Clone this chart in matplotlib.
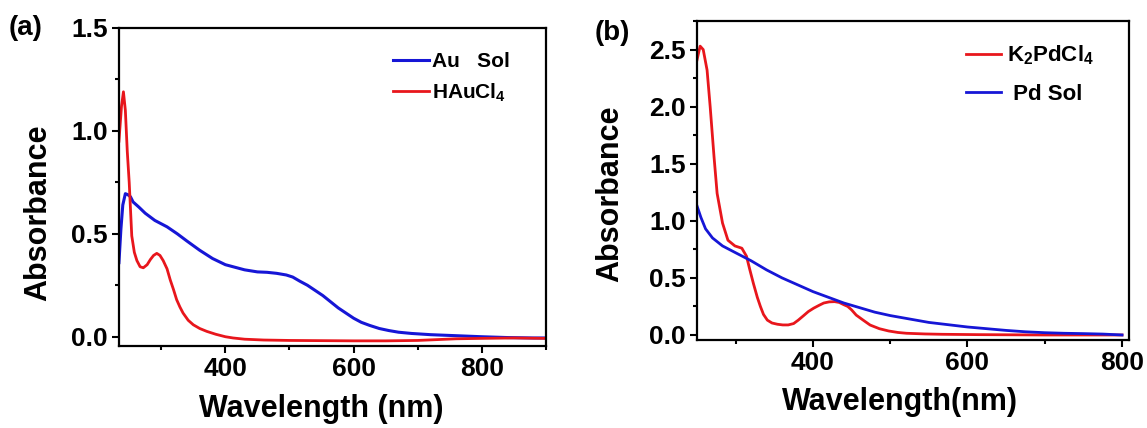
import matplotlib
matplotlib.use('Agg')
import matplotlib.pyplot as plt
from matplotlib.ticker import MultipleLocator

plt.rcParams['font.family'] = ['Liberation Sans', 'DejaVu Sans']
plt.rcParams['font.weight'] = 'bold'
plt.rcParams['axes.labelweight'] = 'bold'
plt.rcParams['mathtext.fontset'] = 'custom'
plt.rcParams['mathtext.rm'] = 'Liberation Sans:bold'
plt.rcParams['mathtext.bf'] = 'Liberation Sans:bold'
plt.rcParams['mathtext.default'] = 'rm'

# (a) gold
wl_au = [234, 237, 240, 244, 248, 252, 256, 265, 275, 290, 309, 325, 340, 360, 380,
         400, 412, 430, 450, 465, 480, 495, 505, 516, 528, 540, 552, 564, 576, 588,
         600, 612, 625, 640, 655, 670, 690, 720, 760, 800, 840, 880, 900]
au_sol = [0.36, 0.52, 0.64, 0.695, 0.69, 0.68, 0.655, 0.63, 0.60, 0.565, 0.534, 0.50,
          0.465, 0.42, 0.38, 0.35, 0.34, 0.325, 0.315, 0.313, 0.308, 0.30, 0.29, 0.27,
          0.25, 0.225, 0.20, 0.17, 0.14, 0.115, 0.09, 0.07, 0.055, 0.04, 0.03, 0.022,
          0.016, 0.01, 0.005, 0.0, -0.004, -0.006, -0.006]

wl_hau = [234, 238, 241, 244, 247, 250, 254, 258, 262, 267, 272, 278, 283, 288, 293,
          298, 303, 309, 314, 319, 324, 329, 334, 342, 350, 360, 371, 385, 400, 412,
          430, 460, 500, 550, 600, 650, 700, 730, 760, 800, 850, 900]
hau = [0.95, 1.12, 1.19, 1.10, 0.90, 0.75, 0.49, 0.41, 0.37, 0.34, 0.335, 0.35, 0.375,
       0.395, 0.405, 0.395, 0.37, 0.33, 0.276, 0.23, 0.18, 0.145, 0.115, 0.08, 0.058,
       0.04, 0.026, 0.012, 0.0, -0.006, -0.012, -0.016, -0.018, -0.019, -0.02, -0.02,
       -0.018, -0.014, -0.01, -0.008, -0.006, -0.008]

# (b) palladium
wl_k2 = [250, 254, 258, 263, 267, 272, 276, 283, 290, 299, 308, 314, 318, 323, 328,
         332, 336, 341, 347, 354, 361, 368, 375, 381, 388, 394, 401, 408, 414, 421,
         428, 434, 440, 445, 450, 456, 465, 474, 486, 498, 510, 521, 545, 567, 614,
         700, 750, 800]
k2pdcl4 = [2.41, 2.53, 2.50, 2.32, 2.0, 1.56, 1.24, 0.98, 0.83, 0.78, 0.76, 0.69,
           0.58, 0.45, 0.33, 0.25, 0.18, 0.13, 0.105, 0.094, 0.088, 0.088, 0.1, 0.13,
           0.17, 0.205, 0.235, 0.26, 0.28, 0.29, 0.292, 0.285, 0.265, 0.25, 0.22,
           0.174, 0.13, 0.087, 0.055, 0.035, 0.022, 0.015, 0.009, 0.006, 0.003, 0.0,
           0.0, 0.0]

wl_pd = [250, 255, 261, 270, 283, 300, 320, 340, 360, 380, 400, 420, 440, 460, 480,
         500, 525, 550, 575, 600, 625, 650, 675, 700, 725, 750, 775, 800]
pd_sol = [1.13, 1.03, 0.93, 0.85, 0.78, 0.72, 0.65, 0.57, 0.50, 0.44, 0.38, 0.33,
          0.28, 0.24, 0.20, 0.17, 0.14, 0.11, 0.09, 0.07, 0.055, 0.04, 0.028, 0.02,
          0.015, 0.012, 0.008, 0.0]

red = '#e8161c'
blue = '#1616d6'

fig = plt.figure(figsize=(11.47, 4.28), dpi=100)
ax1 = fig.add_axes([0.1037, 0.1916, 0.3723, 0.7430])
ax2 = fig.add_axes([0.6077, 0.2056, 0.3766, 0.7453])

ax1.plot(wl_au, au_sol, color=blue, lw=2.2, label='Au   Sol')
ax1.plot(wl_hau, hau, color=red, lw=2.0, label='HAuCl$_4$')
ax1.set_xlim(234, 900)
ax1.set_ylim(-0.045, 1.5)
ax1.yaxis.set_major_locator(MultipleLocator(0.5))
ax1.yaxis.set_minor_locator(MultipleLocator(0.25))

ax2.plot(wl_k2, k2pdcl4, color=red, lw=2.0, label='K$_2$PdCl$_4$')
ax2.plot(wl_pd, pd_sol, color=blue, lw=2.0, label=' Pd Sol')
ax2.set_xlim(250, 809)
ax2.set_ylim(-0.044, 2.75)
ax2.yaxis.set_major_locator(MultipleLocator(0.5))
ax2.yaxis.set_minor_locator(MultipleLocator(0.25))

for ax in (ax1, ax2):
    ax.xaxis.set_major_locator(MultipleLocator(200))
    ax.xaxis.set_minor_locator(MultipleLocator(100))
    ax.tick_params(which='major', direction='out', length=5, width=1.5, labelsize=19, pad=3)
    ax.tick_params(which='minor', direction='out', length=3, width=1.5)
    for s in ax.spines.values():
        s.set_linewidth(1.6)
    ax.set_ylabel('Absorbance', fontsize=22, fontweight='bold')

ax1.set_xlabel('Wavelength (nm)', fontsize=22, fontweight='bold')
ax2.set_xlabel('Wavelength(nm)', fontsize=22, fontweight='bold')
ax1.yaxis.set_label_coords(-0.155, 0.42)
ax2.yaxis.set_label_coords(-0.167, 0.46)
ax1.xaxis.set_label_coords(0.474, -0.15)
ax2.xaxis.set_label_coords(0.47, -0.148)

ax1.legend(loc='upper left', bbox_to_anchor=(0.642, 0.925), frameon=False, fontsize=15,
           handlelength=1.7, handletextpad=0.15, labelspacing=0.5, borderpad=0,
           borderaxespad=0)
ax2.legend(loc='upper left', bbox_to_anchor=(0.623, 0.93), frameon=False, fontsize=16,
           handlelength=1.55, handletextpad=0.3, labelspacing=0.75, borderpad=0,
           borderaxespad=0)

fig.text(26 / 1147, 1 - 28 / 428, '(a)', fontsize=20, ha='center', va='center')
fig.text(612 / 1147, 1 - 33 / 428, '(b)', fontsize=20, ha='center', va='center')

fig.savefig('out.png', dpi=100)
